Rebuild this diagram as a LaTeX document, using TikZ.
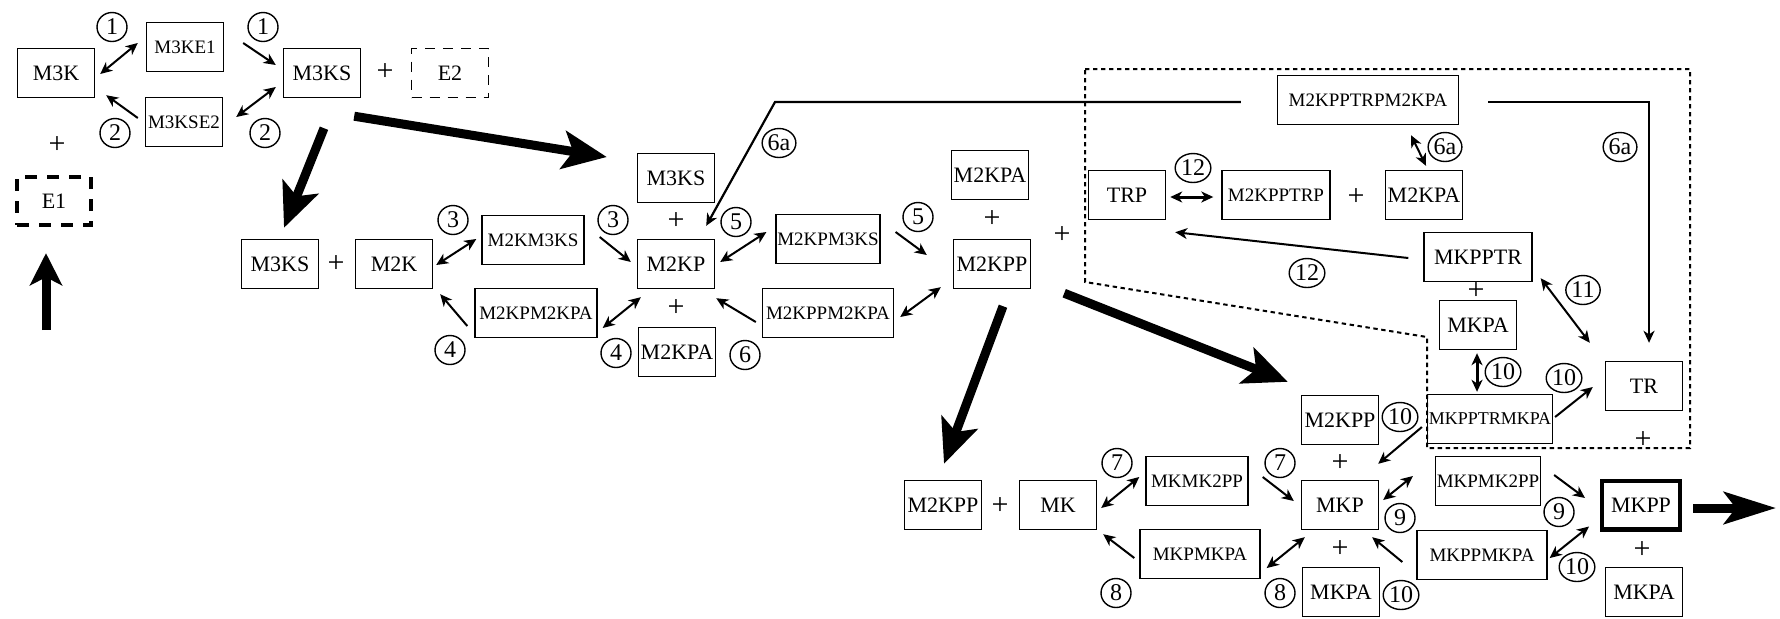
\documentclass[tikz,border=0pt]{standalone}
\usepackage{fontspec}
\setmainfont{Liberation Serif}
\usetikzlibrary{arrows.meta,shapes.geometric}

\tikzset{
  box/.style={draw,line width=0.7pt,minimum width=38.5pt,minimum height=24.5pt,inner xsep=0.6pt,inner ysep=1pt,font=\fontsize{11}{12}\selectfont},
  sbox/.style={box,minimum width=#1,font=\fontsize{9.5}{11}\selectfont},
  sbox/.default=51pt,
  num/.style={draw,ellipse,line width=0.7pt,inner sep=0.3pt,minimum width=15pt,minimum height=14.5pt,font=\fontsize{12}{13}\selectfont},
  fwd/.style={line width=1pt,-{Stealth[length=6pt,width=5.5pt,inset=1.8pt]}},
  bidir/.style={line width=1pt,{Stealth[length=6pt,width=5.5pt,inset=1.8pt]}-{Stealth[length=6pt,width=5.5pt,inset=1.8pt]}},
  flux/.style={line width=4.5pt,-{Stealth[length=22pt,width=19pt,inset=5pt]}},
  plussign/.style={font=\fontsize{15}{16}\selectfont,inner sep=0pt}
}

\begin{document}
\begin{tikzpicture}[x=0.5pt,y=-0.5pt]
\useasboundingbox (0,0) rectangle (1780,618);

% region of the TR cycle
\draw[line width=1pt,dash pattern=on 2.2pt off 1.8pt] (1085,69) -- (1690,69) -- (1690,448) -- (1427,448) -- (1427,337) -- (1085,282) -- cycle;

% species
\node[box] (M3K) at (56,73) {M3K};
\node[sbox=38.5pt] (M3KE1) at (185,47) {M3KE1};
\node[sbox=38.5pt] (M3KSE2) at (184,122) {M3KSE2};
\node[box] (M3KSa) at (322,73) {M3KS};
\node[box,dash pattern=on 5pt off 4pt] (E2) at (450,73) {E2};
\node[box,line width=2.2pt,dash pattern=on 6pt off 5pt,minimum width=37pt,minimum height=24pt] (E1) at (54,201) {E1};
\node[box] (M3KSb) at (280,264) {M3KS};
\node[box] (M2K) at (394,264) {M2K};
\node[sbox] (M2KM3KS) at (533,240) {M2KM3KS};
\node[sbox=61pt] (M2KPM2KPA) at (536,313) {M2KPM2KPA};
\node[box] (M3KSc) at (676,178) {M3KS};
\node[box] (M2KP) at (676,264) {M2KP};
\node[box] (M2KPAa) at (677,352) {M2KPA};
\node[sbox] (M2KPM3KS) at (828,239) {M2KPM3KS};
\node[sbox=65.5pt] (M2KPPM2KPA) at (828,313) {M2KPPM2KPA};
\node[box] (M2KPAb) at (990,175) {M2KPA};
\node[box] (M2KPPa) at (992,264) {M2KPP};
\node[sbox=90.5pt] (M2KPPTRPM2KPA) at (1368,100) {M2KPPTRPM2KPA};
\node[box] (TRP) at (1127,195) {TRP};
\node[sbox=54pt] (M2KPPTRP) at (1276,195) {M2KPPTRP};
\node[box] (M2KPAc) at (1424,195) {M2KPA};
\node[box,minimum width=54pt] (MKPPTR) at (1478,257) {MKPPTR};
\node[box] (MKPAa) at (1478,325) {MKPA};
\node[sbox=61.5pt,font=\fontsize{9}{11}\selectfont] (MKPPTRMKPA) at (1490,419) {MKPPTRMKPA};
\node[box] (TR) at (1644,386) {TR};
\node[box] (M2KPPb) at (943,505) {M2KPP};
\node[box] (MK) at (1058,505) {MK};
\node[sbox] (MKMK2PP) at (1197,481) {MKMK2PP};
\node[sbox=60pt] (MKPMKPA) at (1200,554) {MKPMKPA};
\node[box] (M2KPPc) at (1340,420) {M2KPP};
\node[box] (MKP) at (1340,505) {MKP};
\node[box] (MKPAb) at (1341,592) {MKPA};
\node[sbox] (MKPMK2PP) at (1488,481) {MKPMK2PP};
\node[sbox=65pt] (MKPPMKPA) at (1482,555) {MKPPMKPA};
\node[box,line width=2.2pt,minimum width=38.8pt,minimum height=24.3pt] (MKPP) at (1641,505) {MKPP};
\node[box] (MKPAc) at (1644,592) {MKPA};

\foreach \x/\y [count=\i] in {385/72, 57/145, 336/264, 676/221, 676/308, 992/219, 1062/235, 1356/197, 1476/291, 1643/440, 1000/506, 1340/463, 1340/549, 1642/550}
  \node[plussign] (p\i) at (\x,\y) {+};

\foreach \t/\x/\y [count=\i] in {1/112/27, 1/263/27, 2/115/133, 2/265/133, 3/453/220, 3/613/220, 4/450/350, 4/616/353, 5/736/222, 5/918/217, 6/745/355, 6a/779/143, 6a/1445/147, 6a/1620/147, 12/1193/168, 12/1307/273, 11/1583/290, 10/1503/372, 10/1564/378, 10/1400/417, 10/1577/567, 10/1401/595, 7/1117/463, 7/1280/463, 8/1116/593, 8/1280/593, 9/1400/518, 9/1559/512}
  \node[num] (c\i) at (\x,\y) {\t};

% M3K activation
\draw[bidir] ([shift={(5,1)}]M3K.east) -- ([shift={(-8,-4)}]M3KE1.west);
\draw[fwd] ([shift={(19,-4)}]M3KE1.east) -- ([shift={(-7,-8)}]M3KSa.west);
\draw[fwd] ([shift={(-7,-4)}]M3KSE2.west) -- ([shift={(11,-3)}]M3K.south east);
\draw[bidir] ([shift={(-7,14)}]M3KSa.west) -- ([shift={(13,-5)}]M3KSE2.east);

% main flow
\draw[flux] ([shift={(2,30)}]M3KSa.south) -- ([shift={(4,-11)}]M3KSb.north);
\draw[flux] ([shift={(-7,18)}]M3KSa.south east) -- ([shift={(-30,-21)}]M3KSc.west);
\draw[flux] ([shift={(11,17)}]M2KPPa.south) -- ([shift={(1,-16)}]M2KPPb.north);
\draw[flux] ([shift={(33,4)}]M2KPPa.south east) -- ([shift={(-13,-13)}]M2KPPc.north west);
\coordinate (inflow) at (46,330);
\coordinate (outflow) at (1776,508);
\draw[flux,-{Stealth[length=16pt,width=16pt,inset=4pt]}] (inflow) -- ([shift={(-8,26)}]E1.south);
\draw[flux,-{Stealth[length=26pt,width=16pt,inset=6pt]}] ([shift={(11,3)}]MKPP.east) -- (outflow);

% M2K cycle
\draw[bidir] ([shift={(3,1)}]M2K.east) -- ([shift={(-5,-1)}]M2KM3KS.west);
\draw[fwd] ([shift={(15,-3)}]M2KM3KS.east) -- ([shift={(-6,-2)}]M2KP.west);
\draw[fwd] ([shift={(-7,13)}]M2KPM2KPA.west) -- ([shift={(7,5)}]M2K.south east);
\draw[bidir] ([shift={(4,8)}]M2KP.south west) -- ([shift={(5,15)}]M2KPM2KPA.east);
\draw[bidir] ([shift={(5,-2)}]M2KP.east) -- ([shift={(-9,-7)}]M2KPM3KS.west);
\draw[fwd] ([shift={(15,-7)}]M2KPM3KS.east) -- ([shift={(-26,-9)}]M2KPPa.west);
\draw[bidir] ([shift={(-12,-2)}]M2KPPa.south west) -- ([shift={(6,4)}]M2KPPM2KPA.east);
\draw[fwd] ([shift={(-6,9)}]M2KPPM2KPA.west) -- ([shift={(1,9)}]M2KP.south east);

% 6a
\coordinate (bend6a) at (775,102);
\draw[fwd,line width=1.1pt] ([shift={(-36,2)}]M2KPPTRPM2KPA.west) -- (bend6a) -- ([shift={(-9,-13)}]M2KP.north east);
\draw[fwd,line width=1.1pt] ([shift={(29,2)}]M2KPPTRPM2KPA.east) -| ([shift={(5,-18)}]TR.north);
\draw[bidir] ([shift={(43,10)}]M2KPPTRPM2KPA.south) -- ([shift={(2,-4)}]M2KPAc.north);

% TR cycle
\draw[bidir,line width=1.5pt] ([shift={(4,2)}]TRP.east) -- ([shift={(-8,2)}]M2KPPTRP.west);
\draw[fwd] ([shift={(-15,1)}]MKPPTR.west) -- ([shift={(9,12)}]TRP.south east);
\draw[bidir] ([shift={(8,-4)}]MKPPTR.south east) -- ([shift={(-15,-18)}]TR.north west);
\draw[bidir,line width=1.5pt] ([shift={(-1,3)}]MKPAa.south) -- ([shift={(-13,-2)}]MKPPTRMKPA.north);
\draw[fwd] ([shift={(2,-2)}]MKPPTRMKPA.east) -- ([shift={(-12,1)}]TR.west);
\draw[fwd] ([shift={(-5,8)}]MKPPTRMKPA.west) -- ([shift={(-1,-16)}]MKP.north east);

% MK cycle
\draw[bidir] ([shift={(4,3)}]MK.east) -- ([shift={(-6,-4)}]MKMK2PP.west);
\draw[fwd] ([shift={(14,-4)}]MKMK2PP.east) -- ([shift={(-7,-4)}]MKP.west);
\draw[fwd] ([shift={(-5,4)}]MKPMKPA.west) -- ([shift={(6,4)}]MK.south east);
\draw[bidir] ([shift={(4,7)}]MKP.south west) -- ([shift={(6,14)}]MKPMKPA.east);
\draw[bidir] ([shift={(4,-5)}]MKP.east) -- ([shift={(-22,-5)}]MKPMK2PP.west);
\draw[fwd] ([shift={(-14,7)}]MKPPMKPA.west) -- ([shift={(-7,7)}]MKP.south east);
\draw[fwd] ([shift={(13,-6)}]MKPMK2PP.east) -- ([shift={(-15,-7)}]MKPP.west);
\draw[bidir] ([shift={(-11,-5)}]MKPP.south west) -- ([shift={(2,3)}]MKPPMKPA.east);
\end{tikzpicture}
\end{document}
